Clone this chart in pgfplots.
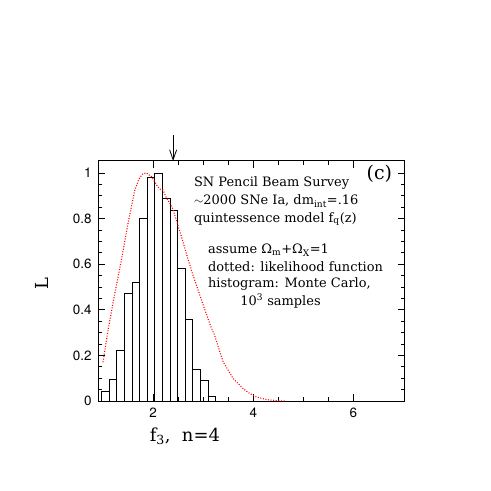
\documentclass[border=0pt]{standalone}
\usepackage{fontspec}
\usepackage{pgfplots}
\pgfplotsset{compat=1.18}
\usetikzlibrary{arrows.meta}
\newfontfamily\ticksf{TeX Gyre Heros}
\newfontfamily\notefont{DejaVu Serif}

% histogram: left bin edges, last row closes the final bin
\pgfplotstableread{
x y
0.970 0.042
1.122 0.095
1.274 0.220
1.426 0.470
1.578 0.520
1.730 0.800
1.882 0.980
2.034 1.000
2.186 0.890
2.338 0.835
2.490 0.580
2.642 0.357
2.794 0.139
2.946 0.091
3.098 0.020
3.250 0.000
}\histdata

% likelihood function (dotted)
\pgfplotstableread{
x y
1.000 0.170
1.100 0.310
1.234 0.470
1.368 0.620
1.500 0.780
1.634 0.925
1.720 0.975
1.800 0.998
1.870 1.000
1.970 0.984
2.030 0.962
2.070 0.947
2.130 0.930
2.200 0.925
2.270 0.890
2.334 0.867
2.400 0.840
2.468 0.790
2.568 0.720
2.700 0.620
2.800 0.550
2.900 0.486
3.034 0.400
3.147 0.330
3.234 0.285
3.334 0.215
3.400 0.171
3.500 0.135
3.600 0.098
3.700 0.076
3.800 0.054
3.934 0.032
4.070 0.0175
4.270 0.006
4.470 0.0015
4.630 0.000
}\likedata

\begin{document}
\begin{tikzpicture}
\useasboundingbox (0,0) rectangle (491bp,491bp);
\begin{axis}[
    at={(98bp,90bp)}, anchor=south west,
    width=307bp, height=240bp, scale only axis,
    xmin=0.9, xmax=7.03, ymin=0, ymax=1.053,
    xtick={2,4,6}, minor x tick num=3,
    ytick={0,0.2,0.4,0.6,0.8,1}, minor y tick num=3,
    tick align=inside,
    xtick pos=both, ytick pos=both,
    major tick length=7bp, minor tick length=4bp,
    axis line style={line width=1bp},
    every tick/.style={black, line width=0.8bp},
    tick label style={font=\ticksf\fontsize{13.5}{13.5}\selectfont},
    /pgf/number format/assume math mode=true,
    xticklabel style={yshift=-3bp},
    yticklabel style={xshift=-3bp},
    xlabel={f\textsubscript{3},\ \ n=4},
    ylabel={L},
    xlabel style={at={(axis description cs:0.283,-0.146)}, anchor=center,
        font=\notefont\fontsize{18}{18}\selectfont},
    ylabel style={at={(axis description cs:-0.182,0.49)}, anchor=center,
        font=\notefont\fontsize{18}{18}\selectfont},
    clip=false,
]
\addplot[ybar interval, draw=black, fill=none, line width=0.8bp] table[x=x, y=y] {\histdata};
\addplot[red, line width=1.1bp, dash pattern=on 1bp off 1.6bp] table[x=x, y=y] {\likedata};

\draw[-{Straight Barb[length=10bp,width=7bp]}, line width=0.8bp]
    ([yshift=26bp]axis cs:2.4,1.053) -- (axis cs:2.4,1.053);

\begin{scope}[every node/.style={anchor=base west, inner sep=0pt,
        font=\notefont\fontsize{13}{15}\selectfont}]
\node at (axis cs:2.814,0.939) {SN Pencil Beam Survey};
\node at (axis cs:2.814,0.860) {$\sim$2000 SNe Ia, dm\textsubscript{int}=.16};
\node at (axis cs:2.814,0.785) {quintessence model f\textsubscript{q}(z)};
\node at (axis cs:3.094,0.645) {assume Ω\textsubscript{m}+Ω\textsubscript{X}=1};
\node at (axis cs:3.094,0.570) {dotted: likelihood function};
\node at (axis cs:3.094,0.496) {histogram: Monte Carlo,};
\node at (axis cs:3.740,0.421) {10\textsuperscript{3} samples};
\node[font=\notefont\fontsize{19}{19}\selectfont] at (axis cs:6.26,0.970) {(c)};
\end{scope}
\end{axis}
\end{tikzpicture}
\end{document}
